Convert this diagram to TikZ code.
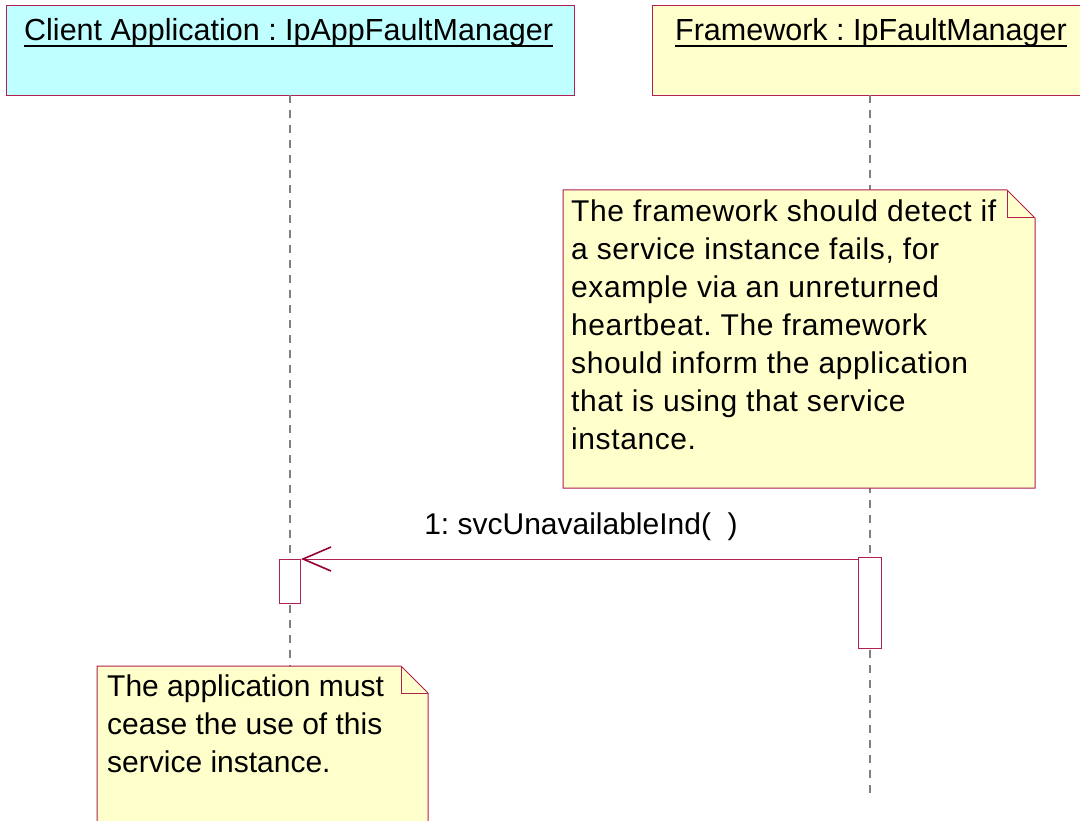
\documentclass[tikz,border=0pt]{standalone}
\usepackage{fontspec}
\setmainfont{Liberation Sans}
\usetikzlibrary{arrows.meta}
\frenchspacing
\definecolor{rosered}{RGB}{176,32,80}
\definecolor{arrowred}{RGB}{150,0,50}
\definecolor{lifegray}{RGB}{128,128,128}
\definecolor{cyanfill}{RGB}{191,255,255}
\definecolor{notefill}{RGB}{255,255,204}
\tikzset{
  objbox/.style={draw=rosered, line width=1pt, minimum height=90pt, anchor=north west, inner sep=0pt},
  titletext/.style={inner sep=0pt, anchor=base west, font=\fontsize{30.5}{38}\selectfont},
  notetext/.style={inner sep=0pt, anchor=north west, align=left, font=\fontsize{30}{38}\selectfont},
  lifeline/.style={draw=lifegray, line width=1.2pt, dash pattern=on 8pt off 7pt},
  actbox/.style={draw=rosered, line width=1pt, fill=white, anchor=north west, inner sep=0pt},
  notebox/.style={draw=rosered, line width=1pt, fill=notefill},
  msg/.style={draw=rosered, line width=1pt, -{Straight Barb[length=28pt, width=24pt, line width=1.6pt, arrowred]}},
  msgtext/.style={inner sep=0pt, anchor=base, font=\fontsize{30}{38}\selectfont}
}
\begin{document}
\begin{tikzpicture}[x=1pt, y=-1pt]
\useasboundingbox (0,0) rectangle (1080,821);
\clip (0,0) rectangle (1080,821);
\fill[white] (0,0) rectangle (1080,821);
% object boxes
\node[objbox, fill=cyanfill, minimum width=568pt] (cabox) at (6,5) {};
\node[objbox, fill=notefill, minimum width=440pt] (fwbox) at (652,5) {};
\node[titletext] (catitle) at (24,41) {Client Application : IpAppFaultManager};
\node[titletext] (fwtitle) at (675,41) {Framework : IpFaultManager};
\draw[line width=2pt] ([yshift=-5pt]catitle.base west) -- ([yshift=-5pt]catitle.base east);
\draw[line width=2pt] ([yshift=-5pt]fwtitle.base west) -- ([yshift=-5pt]fwtitle.base east);
% lifelines
\coordinate (caend) at (290,666);
\coordinate (fwend) at (870,795);
\draw[lifeline] (290,95) -- (caend);
\draw[lifeline] (870,95) -- (fwend);
% note 1
\draw[notebox] (563,190) -- (1007,190) -- (1035,218) -- (1035,488) -- (563,488) -- cycle;
\draw[draw=rosered, line width=1pt] (1007,190) -- (1007,218) -- (1035,218);
\node[notetext, font=\fontsize{30}{38}\selectfont\addfontfeature{LetterSpace=2}] (note1) at (571,200) {The framework should detect if\\a service instance fails, for\\example via an unreturned\\heartbeat. The framework\\should inform the application\\that is using that service\\instance.};
% note 2
\draw[notebox] (97,666) -- (401,666) -- (428,693) -- (428,840) -- (97,840) -- cycle;
\draw[draw=rosered, line width=1pt] (401,666) -- (401,693) -- (428,693);
\node[notetext] (note2) at (107,675) {The application must\\cease the use of this\\service instance.};
% activations
\node[actbox, minimum width=21pt, minimum height=44pt] (act1) at (279,559) {};
\node[actbox, minimum width=23pt, minimum height=91pt] (act2) at (858,557) {};
% message
\draw[msg] ([yshift=-2pt]act2.north west) -- ([yshift=0pt]act1.north east);
\node[msgtext] (msglabel) at (581,534) {1: svcUnavailableInd(\ \ )};
\end{tikzpicture}
\end{document}
